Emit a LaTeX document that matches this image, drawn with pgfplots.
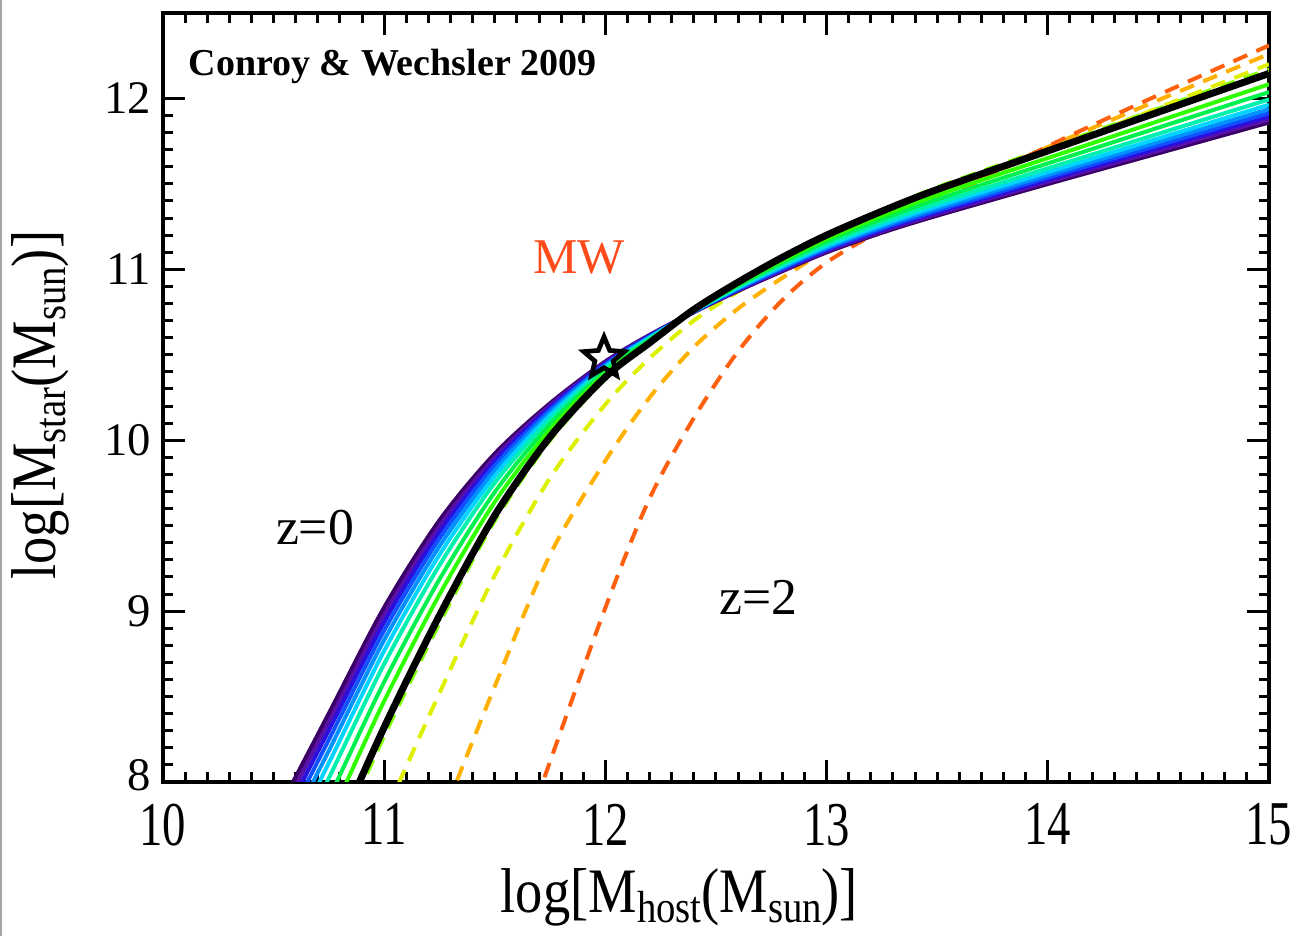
\documentclass[border=0pt]{standalone}
\usepackage{fontspec}
\setmainfont{Liberation Serif}
\usepackage{graphicx}
\usepackage{pgfplots}
\usepackage{pgfplotstable}
\pgfplotsset{compat=1.18}

\definecolor{r1}{HTML}{3A0068}
\definecolor{r2}{HTML}{5A10A8}
\definecolor{r3}{HTML}{2A10E0}
\definecolor{r4}{HTML}{1050FF}
\definecolor{r5}{HTML}{0090FF}
\definecolor{r6}{HTML}{00D4FF}
\definecolor{r7}{HTML}{00F0B0}
\definecolor{r8}{HTML}{00F050}
\definecolor{r9}{HTML}{30FF00}
\definecolor{dgreen}{HTML}{80FF00}
\definecolor{dyellow}{HTML}{DDF000}
\definecolor{dorange}{HTML}{FFB000}
\definecolor{dred}{HTML}{FF6010}
\definecolor{mwred}{HTML}{FF4A1A}

\pgfdeclareplotmark{ostar}{%
  \pgfpathmoveto{\pgfpointpolar{90}{\pgfplotmarksize}}%
  \pgfpathlineto{\pgfpointpolar{126}{0.45\pgfplotmarksize}}%
  \pgfpathlineto{\pgfpointpolar{162}{\pgfplotmarksize}}%
  \pgfpathlineto{\pgfpointpolar{198}{0.45\pgfplotmarksize}}%
  \pgfpathlineto{\pgfpointpolar{234}{\pgfplotmarksize}}%
  \pgfpathlineto{\pgfpointpolar{270}{0.45\pgfplotmarksize}}%
  \pgfpathlineto{\pgfpointpolar{306}{\pgfplotmarksize}}%
  \pgfpathlineto{\pgfpointpolar{342}{0.45\pgfplotmarksize}}%
  \pgfpathlineto{\pgfpointpolar{18}{\pgfplotmarksize}}%
  \pgfpathlineto{\pgfpointpolar{54}{0.45\pgfplotmarksize}}%
  \pgfpathclose
  \pgfusepathqstroke
}

\pgfplotstableread{
x c1 c2 c3 c4 c5 c6 c7 c8 c9 B
10.5 7.78 7.727 7.674 7.613 7.542 7.463 7.366 7.234 7.094 6.90
10.75 8.40 8.352 8.304 8.248 8.184 8.112 8.024 7.904 7.776 7.60
11.0 9.02 8.978 8.936 8.887 8.831 8.768 8.691 8.586 8.474 8.32
11.25 9.53 9.497 9.463 9.425 9.380 9.330 9.269 9.186 9.097 8.975
11.5 9.92 9.898 9.877 9.852 9.823 9.790 9.751 9.697 9.639 9.56
11.75 10.215 10.203 10.192 10.178 10.162 10.145 10.123 10.094 10.063 10.02
12.0 10.46 10.455 10.449 10.443 10.436 10.428 10.418 10.404 10.390 10.37
12.2 10.615 10.612 10.610 10.606 10.603 10.599 10.594 10.587 10.580 10.57
12.4 10.75 10.751 10.752 10.753 10.754 10.755 10.757 10.759 10.762 10.765
12.6 10.875 10.878 10.881 10.885 10.889 10.893 10.899 10.906 10.914 10.925
12.8 10.99 10.995 11.000 11.005 11.012 11.019 11.028 11.040 11.052 11.07
13.0 11.10 11.106 11.112 11.119 11.127 11.136 11.147 11.162 11.178 11.20
13.25 11.215 11.223 11.230 11.239 11.249 11.260 11.274 11.293 11.313 11.34
13.5 11.315 11.324 11.333 11.344 11.356 11.370 11.386 11.409 11.434 11.467
14.0 11.50 11.512 11.523 11.537 11.552 11.569 11.591 11.620 11.651 11.693
14.5 11.68 11.694 11.709 11.726 11.745 11.766 11.793 11.829 11.867 11.92
15.0 11.86 11.877 11.894 11.914 11.937 11.963 11.994 12.037 12.083 12.146
}\rainbow

\pgfplotstableread{
x y
10.5 6.85
10.75 7.55
11.0 8.27
11.25 8.93
11.5 9.53
11.75 10.00
12.0 10.36
12.2 10.565
12.4 10.765
12.6 10.93
12.8 11.075
13.0 11.205
13.25 11.345
13.5 11.48
14.0 11.71
14.5 11.94
15.0 12.17
}\dgreentab

\pgfplotstableread{
x y
10.75 7.05
11.0 7.80
11.25 8.52
11.5 9.21
11.75 9.78
12.0 10.21
12.2 10.48
12.4 10.70
12.6 10.87
12.8 11.02
13.0 11.17
13.25 11.31
13.5 11.445
14.0 11.69
14.5 11.945
15.0 12.20
}\dyellowtab

\pgfplotstableread{
x y
11.0 6.92
11.25 7.75
11.5 8.56
11.75 9.33
12.0 9.88
12.2 10.25
12.4 10.545
12.6 10.77
12.8 10.95
13.0 11.11
13.25 11.28
13.5 11.43
14.0 11.715
14.5 11.99
15.0 12.26
}\dorangetab

\pgfplotstableread{
x y
11.5 7.20
11.75 8.12
12.0 9.02
12.2 9.66
12.4 10.13
12.6 10.52
12.8 10.82
13.0 11.04
13.25 11.23
13.5 11.39
14.0 11.72
14.5 12.02
15.0 12.31
}\dredtab

\newcommand{\subt}[1]{\raisebox{-0.35ex}{\fontsize{13.5}{14}\selectfont #1}}

\begin{document}
\begin{tikzpicture}
\begin{axis}[
  scale only axis, width=331.8pt, height=230.7pt,
  xmin=10, xmax=15, ymin=8, ymax=12.5,
  xtick={10,11,12,13,14,15}, ytick={8,9,10,11,12},
  yticklabels={\raisebox{4.5pt}{8},9,10,11,12},
  minor x tick num=9, minor y tick num=9,
  tick align=inside, xtick pos=both, ytick pos=both,
  xticklabel pos=lower, yticklabel pos=left,
  major tick length=6.6pt, minor tick length=3pt,
  every tick/.style={black, line width=0.9pt},
  axis line style={line width=1.3pt},
  /pgf/number format/assume math mode=true,
  yticklabel style={font=\fontsize{14}{14}\selectfont},
  xticklabel={\scalebox{0.75}[1]{\fontsize{18.7}{19}\selectfont\pgfmathprintnumber{\tick}}},
  xticklabel style={yshift=-3pt},
  xlabel={\scalebox{0.86}[1]{\fontsize{19}{20}\selectfont log[M\subt{host}(M\subt{sun})]}},
  ylabel={\scalebox{0.86}[1]{\fontsize{19}{20}\selectfont log[M\subt{star}(M\subt{sun})]}},
  xlabel style={at={(axis description cs:0.467,-0.1495)}, anchor=center},
  ylabel style={at={(axis description cs:-0.1112,0.49)}, anchor=center, rotate=0},
]
\addplot[dgreen, line width=1.2pt, dash pattern=on 4.5pt off 3pt, smooth] table[x=x,y=y] {\dgreentab};
\addplot[dyellow, line width=1.2pt, dash pattern=on 4.5pt off 3pt, smooth] table[x=x,y=y] {\dyellowtab};
\addplot[dorange, line width=1.2pt, dash pattern=on 4.5pt off 3pt, smooth] table[x=x,y=y] {\dorangetab};
\addplot[dred, line width=1.2pt, dash pattern=on 4.5pt off 3pt, smooth] table[x=x,y=y] {\dredtab};
\addplot[r1, line width=1.3pt, smooth] table[x=x,y=c1] {\rainbow};
\addplot[r2, line width=1.2pt, smooth] table[x=x,y=c2] {\rainbow};
\addplot[r3, line width=1.2pt, smooth] table[x=x,y=c3] {\rainbow};
\addplot[r4, line width=1.2pt, smooth] table[x=x,y=c4] {\rainbow};
\addplot[r5, line width=1.2pt, smooth] table[x=x,y=c5] {\rainbow};
\addplot[r6, line width=1.2pt, smooth] table[x=x,y=c6] {\rainbow};
\addplot[r7, line width=1.2pt, smooth] table[x=x,y=c7] {\rainbow};
\addplot[r8, line width=1.2pt, smooth] table[x=x,y=c8] {\rainbow};
\addplot[r9, line width=1.2pt, smooth] table[x=x,y=c9] {\rainbow};
\addplot[black, line width=2.1pt, smooth] table[x=x,y=B] {\rainbow};
\addplot[only marks, mark=ostar, mark size=6.4pt, mark options={black, line width=1.4pt}] coordinates {(11.994,10.48)};
\node[anchor=west, inner sep=0pt, font=\fontsize{11.4}{12}\selectfont\bfseries] at (axis cs:10.113,12.187) {Conroy \& Wechsler 2009};
\node[text=mwred, font=\fontsize{15}{15}\selectfont] at (axis cs:11.88,11.07) {MW};
\node[font=\fontsize{15.5}{16}\selectfont] at (axis cs:10.687,9.49) {z=0};
\node[font=\fontsize{15.5}{16}\selectfont] at (axis cs:12.69,9.08) {z=2};
\end{axis}
\pgfresetboundingbox
\useasboundingbox (-48.9pt,-46.2pt) rectangle (340.5pt,234.6pt);
\draw[gray!70, line width=0.6pt] (-48.5pt,-46.2pt) -- (-48.5pt,234.6pt);
\end{tikzpicture}
\end{document}
